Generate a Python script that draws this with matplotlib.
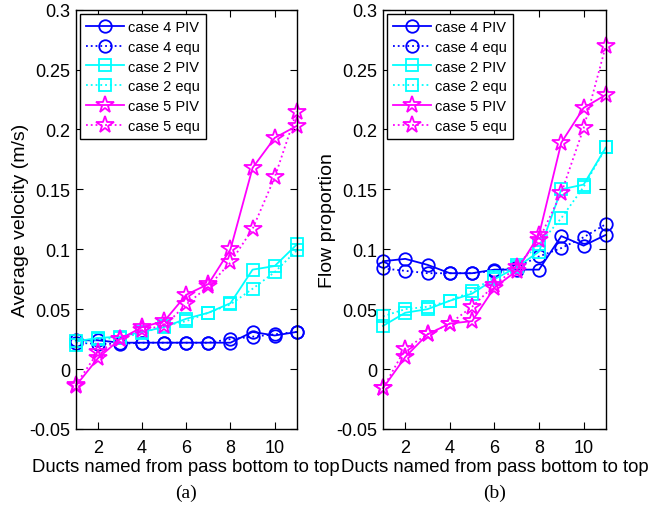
import numpy as np
import matplotlib
matplotlib.use("Agg")
import matplotlib.pyplot as plt

plt.rcParams['font.family'] = ['Liberation Sans', 'DejaVu Sans']

ducts = np.arange(1, 12)

# (a) average velocity, m/s
vel_c4_piv = [0.024, 0.024, 0.022, 0.022, 0.022, 0.022, 0.022, 0.022, 0.031, 0.028, 0.031]
vel_c4_equ = [0.022, 0.021, 0.021, 0.022, 0.022, 0.022, 0.022, 0.025, 0.027, 0.029, 0.031]
vel_c2_piv = [0.023, 0.026, 0.027, 0.031, 0.035, 0.042, 0.047, 0.055, 0.083, 0.086, 0.104]
vel_c2_equ = [0.020, 0.025, 0.026, 0.030, 0.036, 0.040, 0.047, 0.054, 0.067, 0.081, 0.099]
vel_c5_piv = [-0.014, 0.009, 0.025, 0.035, 0.040, 0.062, 0.071, 0.100, 0.168, 0.193, 0.203]
vel_c5_equ = [-0.013, 0.014, 0.025, 0.033, 0.036, 0.054, 0.069, 0.089, 0.117, 0.160, 0.215]

# (b) flow proportion
fp_c4_piv = [0.090, 0.092, 0.087, 0.080, 0.080, 0.083, 0.083, 0.083, 0.111, 0.103, 0.112]
fp_c4_equ = [0.084, 0.082, 0.080, 0.080, 0.080, 0.082, 0.085, 0.094, 0.101, 0.110, 0.121]
fp_c2_piv = [0.036, 0.047, 0.050, 0.057, 0.063, 0.075, 0.085, 0.098, 0.150, 0.154, 0.185]
fp_c2_equ = [0.044, 0.050, 0.052, 0.057, 0.065, 0.077, 0.087, 0.104, 0.126, 0.152, 0.185]
fp_c5_piv = [-0.016, 0.010, 0.029, 0.038, 0.040, 0.068, 0.082, 0.112, 0.189, 0.218, 0.229]
fp_c5_equ = [-0.016, 0.017, 0.029, 0.038, 0.052, 0.070, 0.085, 0.108, 0.147, 0.201, 0.270]

labels = ['case 4 PIV', 'case 4 equ', 'case 2 PIV', 'case 2 equ', 'case 5 PIV', 'case 5 equ']
colors = ['#0000ff', '#0000ff', '#00ffff', '#00ffff', '#ff00ff', '#ff00ff']
markers = ['o', 'o', 's', 's', '*', '*']
msizes = [9, 9, 8, 8, 13, 13]
styles = ['-', ':', '-', ':', '-', ':']

fig = plt.figure(figsize=(6.48, 5.10), dpi=100)
ax1 = fig.add_axes([0.117, 0.157, 0.341, 0.822])
ax2 = fig.add_axes([0.591, 0.157, 0.344, 0.822])

panels = [
    (ax1, [vel_c4_piv, vel_c4_equ, vel_c2_piv, vel_c2_equ, vel_c5_piv, vel_c5_equ],
     'Average velocity (m/s)', '(a)'),
    (ax2, [fp_c4_piv, fp_c4_equ, fp_c2_piv, fp_c2_equ, fp_c5_piv, fp_c5_equ],
     'Flow proportion', '(b)'),
]

for ax, series, ylab, tag in panels:
    for y, lab, c, m, ms, ls in zip(series, labels, colors, markers, msizes, styles):
        ax.plot(ducts, y, linestyle=ls, color=c, marker=m, markersize=ms,
                markerfacecolor='none', markeredgecolor=c, markeredgewidth=1.3,
                linewidth=1.3, label=lab, clip_on=False)
    ax.set_xlim(1, 11)
    ax.set_ylim(-0.05, 0.3)
    ax.set_xticks([2, 4, 6, 8, 10])
    ax.set_yticks([-0.05, 0, 0.05, 0.1, 0.15, 0.2, 0.25, 0.3])
    ax.set_yticklabels(['-0.05', '0', '0.05', '0.1', '0.15', '0.2', '0.25', '0.3'])
    ax.tick_params(direction='in', top=True, right=True, labelsize=13, length=5, pad=4)
    ax.tick_params(axis='x', pad=7)
    ax.set_ylabel(ylab, fontsize=14, labelpad=0)
    ax.set_xlabel('Ducts named from pass bottom to top', fontsize=13.3, labelpad=2)
    for sp in ax.spines.values():
        sp.set_linewidth(1.0)
    leg = ax.legend(loc='upper left', fontsize=10.5, frameon=True, fancybox=False,
                    edgecolor='black', framealpha=1, handlelength=2.6,
                    borderaxespad=0.3, labelspacing=0.4, handletextpad=0.3)
    leg.get_frame().set_linewidth(1.0)
    ax.text(0.5, -0.13, tag, transform=ax.transAxes, ha='center', va='top',
            fontsize=14, family=['Liberation Serif', 'DejaVu Serif'])

fig.savefig('out.png', dpi=100)
